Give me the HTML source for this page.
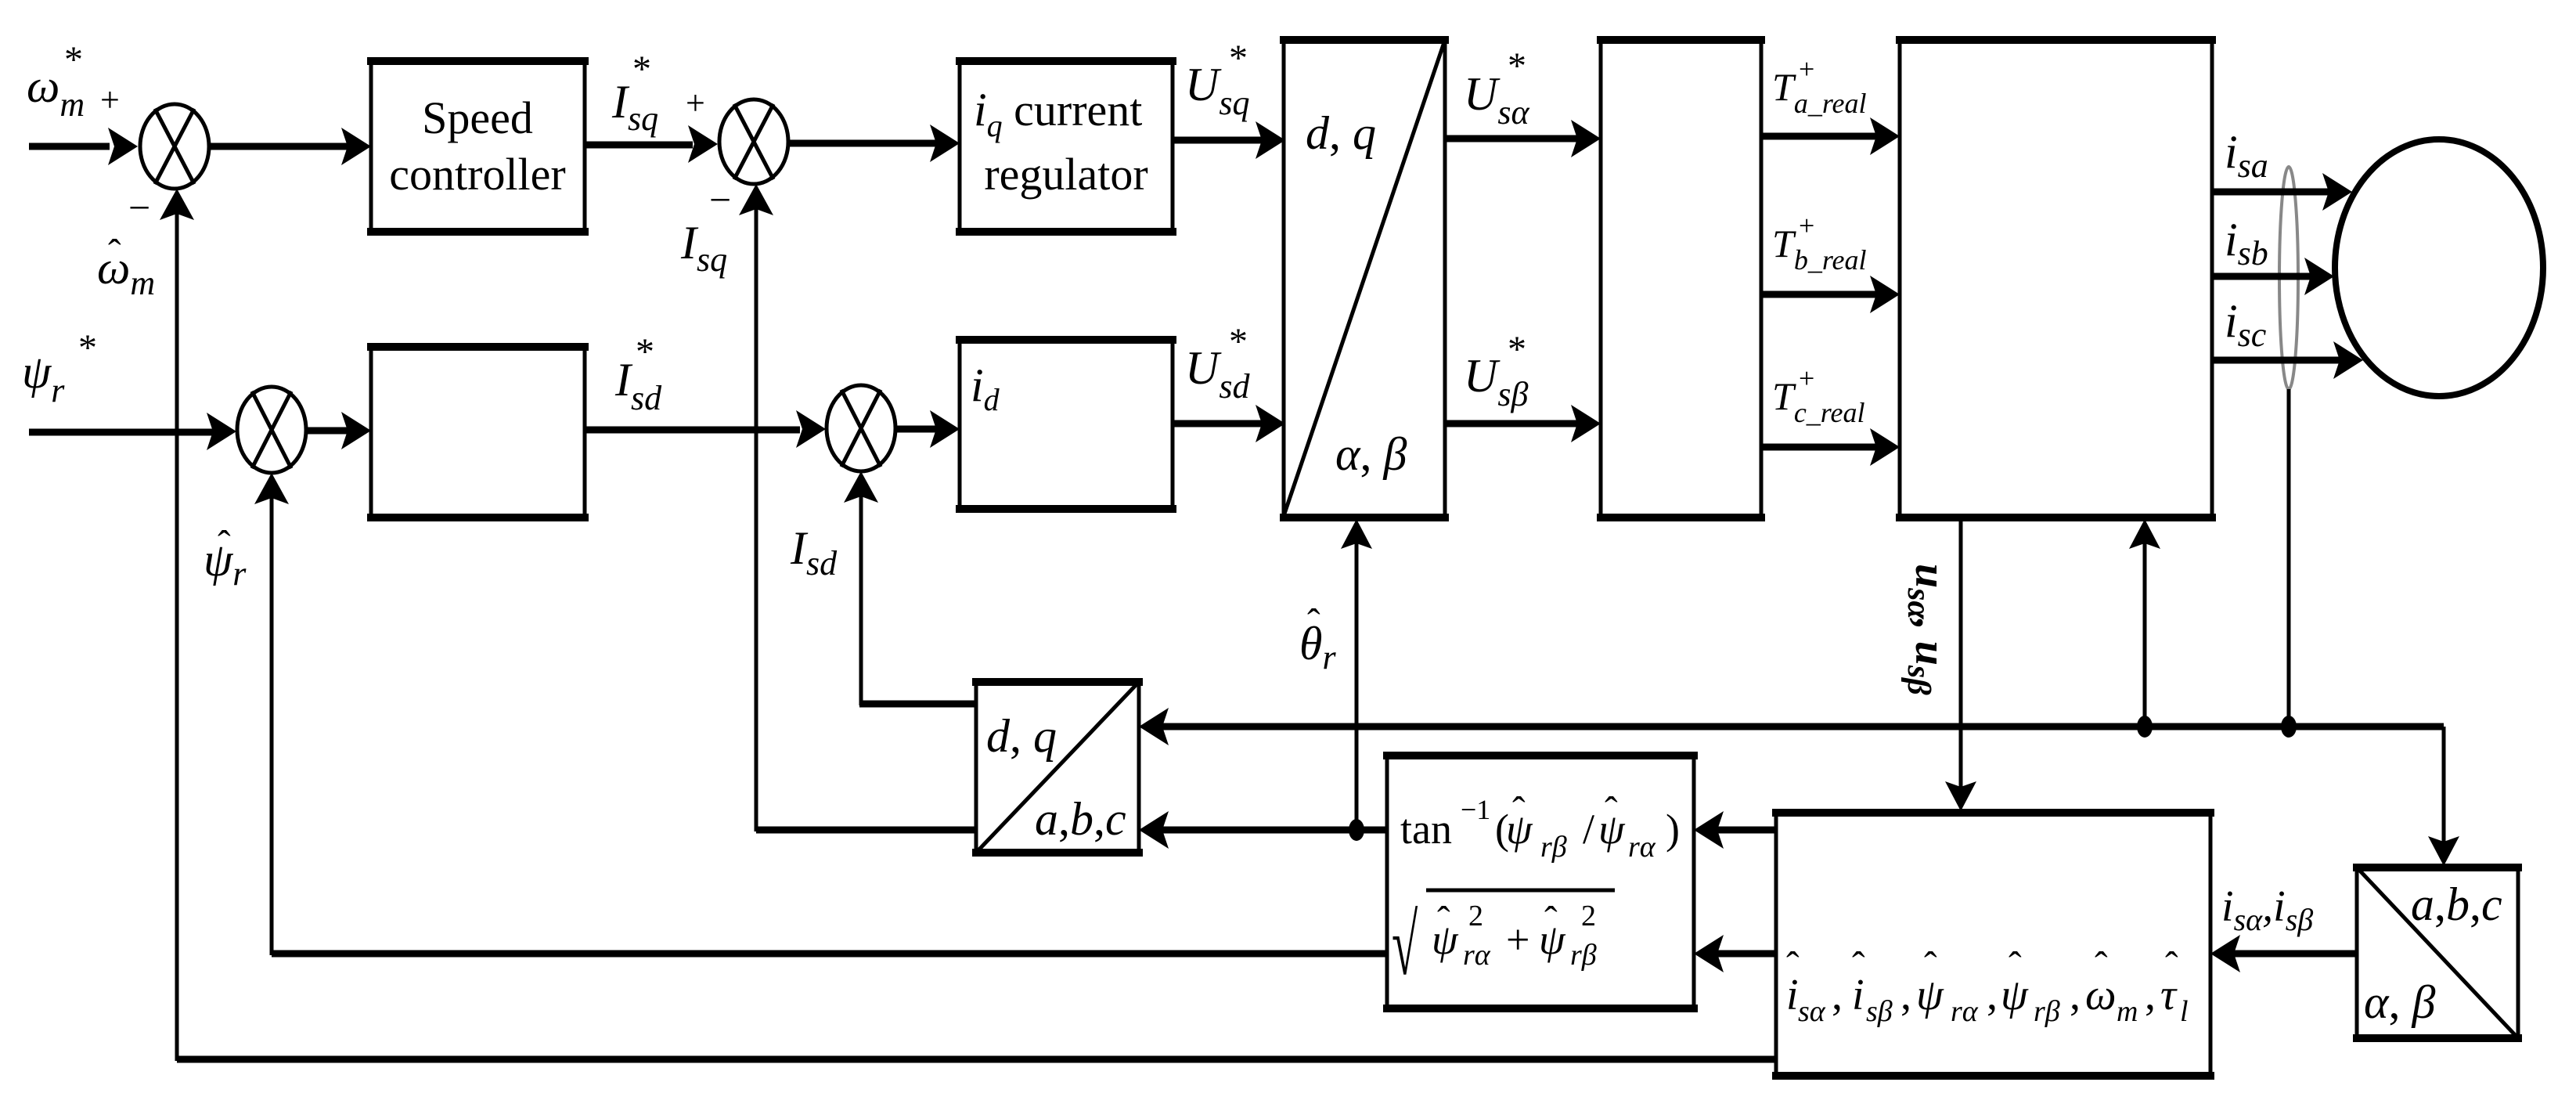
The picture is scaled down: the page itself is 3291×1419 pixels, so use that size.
<!DOCTYPE html>
<html><head><meta charset="utf-8"><style>
html,body{margin:0;padding:0;background:#fff}
svg{display:block}
text{font-family:"Liberation Serif",serif;font-style:italic;fill:#000}
.n{font-style:normal}
.h{font-style:normal;font-size:50px}
</style></head><body>
<svg width="3291" height="1419" viewBox="0 0 3291 1419" xmlns="http://www.w3.org/2000/svg">
<g fill="none" stroke="#000" stroke-linecap="square">
<g stroke-width="5">
<rect x="474" y="78" width="273" height="218"/>
<rect x="1226" y="78" width="272" height="218"/>
<rect x="474" y="443" width="273" height="218"/>
<rect x="1226" y="434" width="272" height="216"/>
<rect x="1640" y="51" width="206" height="610"/>
<rect x="2045" y="51" width="205" height="610"/>
<rect x="2427" y="51" width="399" height="610"/>
<rect x="1247" y="871" width="208" height="218"/>
<rect x="1772" y="965" width="392" height="323"/>
<rect x="2269" y="1038" width="555" height="336"/>
<rect x="3011" y="1108" width="206" height="218"/>
<line x1="1640" y1="659" x2="1846" y2="51"/>
<line x1="1247" y1="1089" x2="1455" y2="871"/>
<line x1="3011" y1="1108" x2="3217" y2="1326"/>
</g>
<g stroke-width="10">
<line x1="474" y1="78" x2="747" y2="78"/><line x1="474" y1="296" x2="747" y2="296"/>
<line x1="1226" y1="78" x2="1498" y2="78"/><line x1="1226" y1="296" x2="1498" y2="296"/>
<line x1="474" y1="443" x2="747" y2="443"/><line x1="474" y1="661" x2="747" y2="661"/>
<line x1="1226" y1="434" x2="1498" y2="434"/><line x1="1226" y1="650" x2="1498" y2="650"/>
<line x1="1640" y1="51" x2="1846" y2="51"/><line x1="1640" y1="661" x2="1846" y2="661"/>
<line x1="2045" y1="51" x2="2250" y2="51"/><line x1="2045" y1="661" x2="2250" y2="661"/>
<line x1="2427" y1="51" x2="2826" y2="51"/><line x1="2427" y1="661" x2="2826" y2="661"/>
<line x1="1247" y1="871" x2="1455" y2="871"/><line x1="1247" y1="1089" x2="1455" y2="1089"/>
<line x1="1772" y1="965" x2="2164" y2="965"/><line x1="1772" y1="1288" x2="2164" y2="1288"/>
<line x1="2269" y1="1038" x2="2824" y2="1038"/><line x1="2269" y1="1374" x2="2824" y2="1374"/>
<line x1="3011" y1="1108" x2="3217" y2="1108"/><line x1="3011" y1="1326" x2="3217" y2="1326"/>
</g>
<g stroke-width="5">
<ellipse cx="223" cy="187" rx="44" ry="54"/>
<line x1="199" y1="141" x2="247" y2="233"/><line x1="247" y1="141" x2="199" y2="233"/>
<ellipse cx="963" cy="181" rx="44" ry="54"/>
<line x1="939" y1="135" x2="987" y2="227"/><line x1="987" y1="135" x2="939" y2="227"/>
<ellipse cx="347" cy="549" rx="44" ry="55"/>
<line x1="323" y1="502" x2="371" y2="596"/><line x1="371" y1="502" x2="323" y2="596"/>
<ellipse cx="1100" cy="547" rx="44" ry="55"/>
<line x1="1076" y1="500" x2="1124" y2="594"/><line x1="1124" y1="500" x2="1076" y2="594"/>
<ellipse cx="3116" cy="342" rx="133" ry="164" stroke-width="8"/>
</g>
<ellipse cx="2924" cy="355" rx="12" ry="142" stroke="#888" stroke-width="4"/>
<g stroke-width="9" stroke-linecap="butt">
<line x1="37" y1="187" x2="140" y2="187"/>
<line x1="267" y1="187" x2="445" y2="187"/>
<line x1="747" y1="185" x2="885" y2="185"/>
<line x1="1007" y1="183" x2="1196" y2="183"/>
<line x1="1498" y1="179" x2="1614" y2="179"/>
<line x1="37" y1="552" x2="272" y2="552"/>
<line x1="391" y1="550" x2="445" y2="550"/>
<line x1="747" y1="549" x2="1022" y2="549"/>
<line x1="1144" y1="548" x2="1196" y2="548"/>
<line x1="1498" y1="541" x2="1614" y2="541"/>
<line x1="1846" y1="177" x2="2017" y2="177"/>
<line x1="1846" y1="541" x2="2017" y2="541"/>
<line x1="2250" y1="174" x2="2399" y2="174"/>
<line x1="2250" y1="376" x2="2399" y2="376"/>
<line x1="2250" y1="571" x2="2399" y2="571"/>
<line x1="2826" y1="245" x2="2977" y2="245"/>
<line x1="2826" y1="353" x2="2954" y2="353"/>
<line x1="2826" y1="460" x2="2991" y2="460"/>
<line x1="1483" y1="928" x2="3122" y2="928"/>
<line x1="1483" y1="1060" x2="1772" y2="1060"/>
<line x1="2192" y1="1060" x2="2269" y2="1060"/>
<line x1="2192" y1="1218" x2="2269" y2="1218"/>
<line x1="347" y1="1218" x2="1772" y2="1218"/>
<line x1="2852" y1="1218" x2="3011" y2="1218"/>
<line x1="226" y1="1353" x2="2269" y2="1353"/>
<line x1="1098" y1="899" x2="1247" y2="899"/>
<line x1="966" y1="1060" x2="1247" y2="1060"/>
</g>
<g stroke-width="5" stroke-linecap="butt">
<line x1="226" y1="270" x2="226" y2="1355"/>
<line x1="966" y1="264" x2="966" y2="1062"/>
<line x1="347" y1="632" x2="347" y2="1220"/>
<line x1="1100" y1="630" x2="1100" y2="901"/>
<line x1="1733" y1="690" x2="1733" y2="1060"/>
<line x1="2740" y1="690" x2="2740" y2="928"/>
<line x1="2924" y1="497" x2="2924" y2="928"/>
<line x1="2505" y1="661" x2="2505" y2="1008"/>
<line x1="3122" y1="928" x2="3122" y2="1078"/>
</g>
</g>
<g fill="#000">
<polygon points="176,187 138,163 146,187 138,211"/>
<polygon points="474,187 436,163 444,187 436,211"/>
<polygon points="917,184 879,160 887,184 879,208"/>
<polygon points="1226,183 1188,159 1196,183 1188,207"/>
<polygon points="1642,179 1604,155 1612,179 1604,203"/>
<polygon points="302,551 264,527 272,551 264,575"/>
<polygon points="474,550 436,526 444,550 436,574"/>
<polygon points="1055,548 1017,524 1025,548 1017,572"/>
<polygon points="1226,548 1188,524 1196,548 1188,572"/>
<polygon points="1642,541 1604,517 1612,541 1604,565"/>
<polygon points="2045,177 2007,153 2015,177 2007,201"/>
<polygon points="2045,541 2007,517 2015,541 2007,565"/>
<polygon points="2427,174 2389,150 2397,174 2389,198"/>
<polygon points="2427,376 2389,352 2397,376 2389,400"/>
<polygon points="2427,571 2389,547 2397,571 2389,595"/>
<polygon points="3005,245 2967,221 2975,245 2967,269"/>
<polygon points="2982,353 2944,329 2952,353 2944,377"/>
<polygon points="3019,460 2981,436 2989,460 2981,484"/>
<polygon points="1455,928 1493,904 1485,928 1493,952"/>
<polygon points="1455,1060 1493,1036 1485,1060 1493,1084"/>
<polygon points="2164,1060 2202,1036 2194,1060 2202,1084"/>
<polygon points="2164,1218 2202,1194 2194,1218 2202,1242"/>
<polygon points="2824,1218 2862,1194 2854,1218 2862,1242"/>
<polygon points="226,241 204,281 226,273 248,281"/>
<polygon points="966,235 944,275 966,267 988,275"/>
<polygon points="347,604 325,644 347,636 369,644"/>
<polygon points="1100,602 1078,642 1100,634 1122,642"/>
<polygon points="1733,663 1713,701 1733,694 1753,701"/>
<polygon points="2740,663 2720,701 2740,694 2760,701"/>
<polygon points="2505,1036 2485,998 2505,1005 2525,998"/>
<polygon points="3122,1106 3102,1068 3122,1075 3142,1068"/>
<ellipse cx="1733" cy="1060" rx="10" ry="14"/>
<ellipse cx="2740" cy="928" rx="10" ry="14"/>
<ellipse cx="2924" cy="928" rx="10" ry="14"/>
</g>
<g font-size="60">
<text x="34" y="130">ω<tspan font-size="44" dy="18">m</tspan></text>
<text x="82" y="92" class="n" font-size="48">*</text>
<text x="128" y="142" class="n" font-size="44">+</text>
<text x="164" y="282" class="n" font-size="50">−</text>
<text x="124" y="362">ω<tspan font-size="44" dy="14">m</tspan></text>
<text x="138" y="340" class="h">ˆ</text>
<text x="610" y="170" class="n" font-size="58" text-anchor="middle">Speed</text>
<text x="610" y="242" class="n" font-size="58" text-anchor="middle">controller</text>
<text x="782" y="150">I<tspan font-size="44" dy="16">sq</tspan></text>
<text x="808" y="104" class="n" font-size="48">*</text>
<text x="876" y="146" class="n" font-size="44">+</text>
<text x="906" y="272" class="n" font-size="50">−</text>
<text x="870" y="330">I<tspan font-size="44" dy="16">sq</tspan></text>
<text x="1244" y="160">i<tspan font-size="40" dy="14">q</tspan><tspan class="n" font-size="58" dy="-14"> current</tspan></text>
<text x="1362" y="242" class="n" font-size="58" text-anchor="middle">regulator</text>
<text x="1514" y="128">U<tspan font-size="44" dy="18">sq</tspan></text>
<text x="1570" y="90" class="n" font-size="48">*</text>
<text x="28" y="495">ψ<tspan font-size="44" dy="18">r</tspan></text>
<text x="100" y="460" class="n" font-size="48">*</text>
<text x="260" y="735">ψ<tspan font-size="44" dy="12">r</tspan></text>
<text x="278" y="712" class="h">ˆ</text>
<text x="786" y="505">I<tspan font-size="44" dy="18">sd</tspan></text>
<text x="812" y="465" class="n" font-size="48">*</text>
<text x="1010" y="720">I<tspan font-size="44" dy="14">sd</tspan></text>
<text x="1240" y="512">i<tspan font-size="40" dy="12">d</tspan></text>
<text x="1514" y="490">U<tspan font-size="44" dy="18">sd</tspan></text>
<text x="1570" y="452" class="n" font-size="48">*</text>
<text x="1668" y="190">d<tspan class="n">, </tspan>q</text>
<text x="1706" y="600">α<tspan class="n">, </tspan>β</text>
<text x="1870" y="140">U<tspan font-size="44" dy="18">sα</tspan></text>
<text x="1926" y="100" class="n" font-size="48">*</text>
<text x="1870" y="500">U<tspan font-size="44" dy="18">sβ</tspan></text>
<text x="1926" y="462" class="n" font-size="48">*</text>
<g font-size="50">
<text x="2264" y="128">T<tspan font-size="36" dy="16">a_real</tspan></text>
<text x="2298" y="100" class="n" font-size="36">+</text>
<text x="2264" y="328">T<tspan font-size="36" dy="16">b_real</tspan></text>
<text x="2298" y="300" class="n" font-size="36">+</text>
<text x="2264" y="523">T<tspan font-size="36" dy="16">c_real</tspan></text>
<text x="2298" y="495" class="n" font-size="36">+</text>
</g>
<text x="2842" y="214">i<tspan font-size="44" dy="12">sa</tspan></text>
<text x="2842" y="326">i<tspan font-size="44" dy="12">sb</tspan></text>
<text x="2842" y="430">i<tspan font-size="44" dy="12">sc</tspan></text>
<text x="1660" y="842">θ<tspan font-size="44" dy="12">r</tspan></text>
<text x="1670" y="812" class="h">ˆ</text>
<text x="0" y="0" font-weight="bold" transform="translate(2448,720) rotate(90)" font-size="56">u<tspan font-size="42" dy="10">sα</tspan><tspan dy="-10">, u</tspan><tspan font-size="42" dy="10">sβ</tspan></text>
<text x="1260" y="960">d<tspan class="n">, </tspan>q</text>
<text x="1322" y="1066">a<tspan class="n">,</tspan>b<tspan class="n">,</tspan>c</text>
<!-- tan box -->
<g font-size="54">
<text x="1789" y="1077" class="n">tan</text>
<text x="1866" y="1046" class="n" font-size="36">−1</text>
<text x="1910" y="1077" class="n">(</text>
<text x="1924" y="1077">ψ</text>
<text x="1932" y="1052" class="h">ˆ</text>
<text x="1968" y="1094" font-size="38">rβ</text>
<text x="2022" y="1077" class="n">/</text>
<text x="2042" y="1077">ψ</text>
<text x="2050" y="1052" class="h">ˆ</text>
<text x="2080" y="1094" font-size="38">rα</text>
<text x="2128" y="1077" class="n">)</text>
<text x="1778" y="1244" class="n" font-size="110" transform="translate(1778,0) scale(0.55,1) translate(-1778,0)">√</text>
<line x1="1822" y1="1137" x2="2063" y2="1137" stroke="#000" stroke-width="5"/>
<text x="1829" y="1218">ψ</text>
<text x="1836" y="1192" class="h">ˆ</text>
<text x="1869" y="1232" font-size="38">rα</text>
<text x="1876" y="1182" class="n" font-size="38">2</text>
<text x="1924" y="1218" class="n">+</text>
<text x="1966" y="1218">ψ</text>
<text x="1973" y="1192" class="h">ˆ</text>
<text x="2006" y="1232" font-size="38">rβ</text>
<text x="2020" y="1182" class="n" font-size="38">2</text>
</g>
<!-- estimator -->
<g font-size="56">
<text x="2282" y="1289">i</text><text x="2282" y="1250" class="h">ˆ</text>
<text x="2297" y="1304" font-size="38">sα</text>
<text x="2340" y="1289" class="n">,</text>
<text x="2366" y="1289">i</text><text x="2366" y="1250" class="h">ˆ</text>
<text x="2384" y="1304" font-size="38">sβ</text>
<text x="2428" y="1289" class="n">,</text>
<text x="2448" y="1289">ψ</text><text x="2458" y="1250" class="h">ˆ</text>
<text x="2492" y="1304" font-size="38">rα</text>
<text x="2538" y="1289" class="n">,</text>
<text x="2556" y="1289">ψ</text><text x="2566" y="1250" class="h">ˆ</text>
<text x="2598" y="1304" font-size="38">rβ</text>
<text x="2644" y="1289" class="n">,</text>
<text x="2664" y="1289">ω</text><text x="2676" y="1250" class="h">ˆ</text>
<text x="2704" y="1304" font-size="38">m</text>
<text x="2740" y="1289" class="n">,</text>
<text x="2760" y="1289">τ</text><text x="2766" y="1250" class="h">ˆ</text>
<text x="2785" y="1304" font-size="38">l</text>
</g>
<text x="2838" y="1176" font-size="56">i<tspan font-size="40" dy="12">sα</tspan><tspan dy="-12">,i</tspan><tspan font-size="40" dy="12">sβ</tspan></text>
<text x="3080" y="1175">a<tspan class="n">,</tspan>b<tspan class="n">,</tspan>c</text>
<text x="3020" y="1300">α<tspan class="n">, </tspan>β</text>
</g>
</svg>
</body></html>
